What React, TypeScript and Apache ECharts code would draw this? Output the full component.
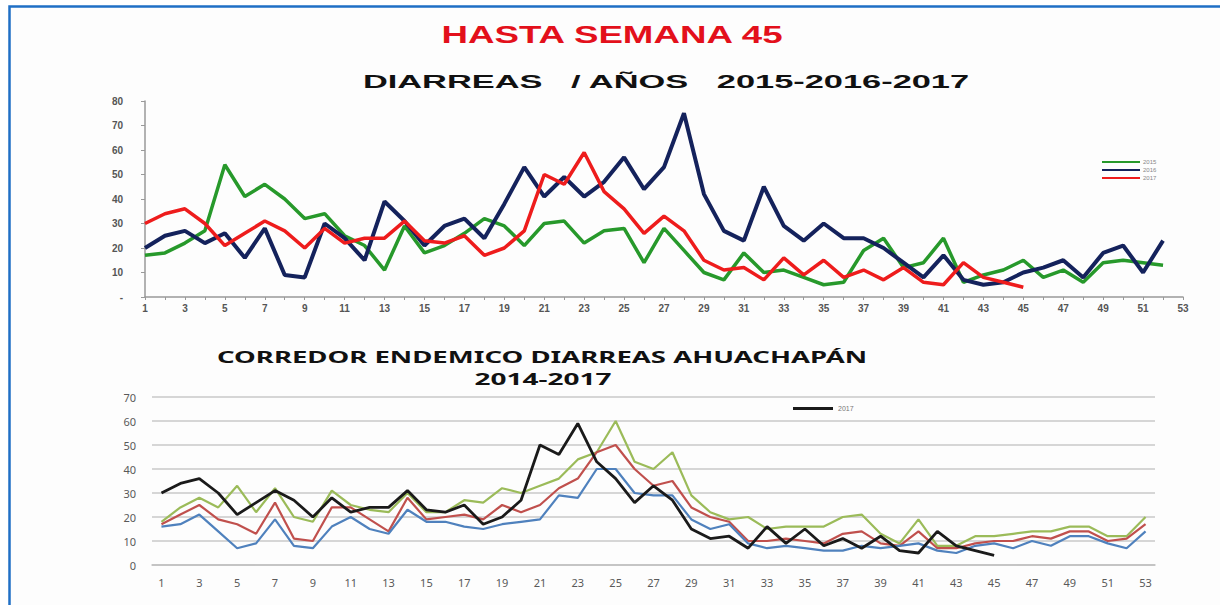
import React, { useEffect, useRef } from "react";
import * as echarts from "echarts";

const weeks: string[] = Array.from({ length: 53 }, (_, i) => String(i + 1));

const data2015: number[] = [17, 18, 22, 27, 54, 41, 46, 40, 32, 34, 25, 21, 11, 29, 18, 21, 26, 32, 29, 21, 30, 31, 22, 27, 28, 14, 28, 19, 10, 7, 18, 10, 11, 8, 5, 6, 19, 24, 12, 14, 24, 6, 9, 11, 15, 8, 11, 6, 14, 15, 14, 13];
const data2016: number[] = [20, 25, 27, 22, 26, 16, 28, 9, 8, 30, 24, 15, 39, 31, 21, 29, 32, 24, 38, 53, 41, 49, 41, 47, 57, 44, 53, 75, 42, 27, 23, 45, 29, 23, 30, 24, 24, 20, 14, 8, 17, 7, 5, 6, 10, 12, 15, 8, 18, 21, 10, 23];
const data2017: number[] = [30, 34, 36, 30, 21, 26, 31, 27, 20, 28, 22, 24, 24, 31, 23, 22, 25, 17, 20, 27, 50, 46, 59, 43, 36, 26, 33, 27, 15, 11, 12, 7, 16, 9, 15, 8, 11, 7, 12, 6, 5, 14, 8, 6, 4];

const corrHigh: number[] = [18, 24, 28, 24, 33, 22, 32, 20, 18, 31, 25, 23, 22, 30, 22, 22, 27, 26, 32, 30, 33, 36, 44, 47, 60, 43, 40, 47, 29, 22, 19, 20, 15, 16, 16, 16, 20, 21, 13, 9, 19, 8, 8, 12, 12, 13, 14, 14, 16, 16, 12, 12, 20];
const corrMid: number[] = [17, 21, 25, 19, 17, 13, 26, 11, 10, 24, 24, 19, 14, 28, 19, 20, 21, 19, 25, 22, 25, 32, 36, 47, 50, 40, 33, 35, 24, 20, 18, 10, 10, 11, 10, 9, 13, 14, 9, 8, 14, 7, 7, 9, 10, 10, 12, 11, 14, 14, 10, 11, 17];
const corrLow: number[] = [16, 17, 21, 14, 7, 9, 19, 8, 7, 16, 20, 15, 13, 23, 18, 18, 16, 15, 17, 18, 19, 29, 28, 40, 40, 30, 29, 29, 19, 15, 17, 9, 7, 8, 7, 6, 6, 8, 7, 8, 9, 6, 5, 8, 9, 7, 10, 8, 12, 12, 9, 7, 14];

const topTicks: number[] = [0, 10, 20, 30, 40, 50, 60, 70, 80];

export default function App() {
  const ref = useRef<HTMLDivElement>(null);
  useEffect(() => {
    if (!ref.current) return;
    const chart = echarts.init(ref.current, null, { renderer: "svg" });
    const arial = "'Liberation Sans', Arial, sans-serif";
    const calibri = "'Noto Sans', 'Open Sans', sans-serif";
    chart.setOption({
      animation: false,
      backgroundColor: "#ffffff",
      graphic: [
        {
          type: "rect",
          z: -10,
          shape: { x: 9.5, y: 6.5, width: 1300, height: 700 },
          style: { fill: "#fdfdfd", stroke: "#1f6fc5", lineWidth: 2.5 },
        },
        {
          type: "text",
          x: 612,
          y: 35,
          scaleX: 1.53,
          style: {
            text: "HASTA SEMANA 45",
            fill: "#e3101b",
            font: "bold 24px " + arial,
            align: "center",
            verticalAlign: "middle",
          },
        },
        {
          type: "text",
          x: 666,
          y: 82,
          scaleX: 1.81,
          style: {
            text: "DIARREAS   / AÑOS   2015-2016-2017",
            fill: "#111111",
            font: "bold 19px " + arial,
            align: "center",
            verticalAlign: "middle",
          },
        },
        {
          type: "text",
          x: 217,
          y: 357,
          scaleX: 1.72,
          style: {
            text: "CORREDOR ENDEMICO DIARREAS AHUACHAPÁN",
            fill: "#111111",
            font: "bold 16px " + calibri,
            align: "left",
            verticalAlign: "middle",
          },
        },
        {
          type: "text",
          x: 543,
          y: 379,
          scaleX: 1.75,
          style: {
            text: "2014-2017",
            fill: "#111111",
            font: "bold 16px " + calibri,
            align: "center",
            verticalAlign: "middle",
          },
        },
      ],
      legend: [
        {
          data: ["2015", "2016", "2017"],
          orient: "vertical",
          left: 1097,
          top: 154,
          icon: "rect",
          itemWidth: 38,
          itemHeight: 2,
          itemGap: 2,
          textStyle: { fontSize: 6, color: "#888", fontFamily: arial, padding: [0, 0, 0, -2] },
        },
        {
          data: ["2017 "],
          left: 788,
          top: 400,
          icon: "rect",
          itemWidth: 40,
          itemHeight: 3,
          textStyle: { fontSize: 7, color: "#777", fontFamily: arial },
          formatter: () => "2017",
        },
      ],
      grid: [
        { left: 145, right: 37, top: 101, bottom: 308, containLabel: false },
        { left: 152, right: 65, top: 397, bottom: 40, containLabel: false },
      ],
      xAxis: [
        {
          gridIndex: 0,
          type: "category",
          data: weeks,
          boundaryGap: false,
          axisLine: { lineStyle: { color: "#999", width: 1.5 } },
          axisTick: { show: true, length: 3, interval: 0, lineStyle: { color: "#999" } },
          axisLabel: { interval: 1, color: "#555", fontSize: 10, fontWeight: "bold", fontFamily: arial, margin: 6 },
        },
        {
          gridIndex: 1,
          type: "category",
          data: weeks,
          boundaryGap: true,
          axisLine: { lineStyle: { color: "#bfbfbf", width: 1.5 } },
          axisTick: { show: false },
          axisLabel: { interval: 1, color: "#595959", fontSize: 11, fontFamily: calibri, margin: 12 },
        },
      ],
      yAxis: [
        {
          gridIndex: 0,
          type: "value",
          min: topTicks[0],
          max: topTicks[topTicks.length - 1],
          interval: 10,
          axisLine: { show: true, lineStyle: { color: "#999", width: 1.5 } },
          axisTick: { show: true, length: 4, lineStyle: { color: "#999" } },
          splitLine: { show: false },
          axisLabel: {
            color: "#555",
            fontSize: 10,
            fontWeight: "bold",
            fontFamily: arial,
            margin: 22,
            formatter: (v: number) => (v === 0 ? "-" : String(v)),
          },
        },
        {
          gridIndex: 1,
          type: "value",
          min: 0,
          max: 70,
          interval: 10,
          axisLine: { show: false },
          axisTick: { show: false },
          splitLine: { show: true, lineStyle: { color: "#c8c8c8", width: 1.5 } },
          axisLabel: { color: "#595959", fontSize: 11, fontFamily: calibri, margin: 16 },
        },
      ],
      series: [
        {
          name: "2015",
          type: "line",
          xAxisIndex: 0,
          yAxisIndex: 0,
          data: data2015,
          symbol: "none",
          lineStyle: { color: "#27992b", width: 3.5 },
          itemStyle: { color: "#27992b" },
        },
        {
          name: "2016",
          type: "line",
          xAxisIndex: 0,
          yAxisIndex: 0,
          data: data2016,
          symbol: "none",
          lineStyle: { color: "#14225c", width: 4 },
          itemStyle: { color: "#14225c" },
        },
        {
          name: "2017",
          type: "line",
          xAxisIndex: 0,
          yAxisIndex: 0,
          data: data2017,
          symbol: "none",
          lineStyle: { color: "#ee1c1c", width: 3.5 },
          itemStyle: { color: "#ee1c1c" },
        },
        {
          name: "alto",
          type: "line",
          xAxisIndex: 1,
          yAxisIndex: 1,
          data: corrHigh,
          symbol: "none",
          lineStyle: { color: "#9bbb59", width: 2.2 },
          itemStyle: { color: "#9bbb59" },
        },
        {
          name: "medio",
          type: "line",
          xAxisIndex: 1,
          yAxisIndex: 1,
          data: corrMid,
          symbol: "none",
          lineStyle: { color: "#c0504d", width: 2.2 },
          itemStyle: { color: "#c0504d" },
        },
        {
          name: "bajo",
          type: "line",
          xAxisIndex: 1,
          yAxisIndex: 1,
          data: corrLow,
          symbol: "none",
          lineStyle: { color: "#4f81bd", width: 2.2 },
          itemStyle: { color: "#4f81bd" },
        },
        {
          name: "2017 ",
          type: "line",
          xAxisIndex: 1,
          yAxisIndex: 1,
          data: data2017,
          symbol: "none",
          lineStyle: { color: "#1a1a1a", width: 2.8 },
          itemStyle: { color: "#1a1a1a" },
        },
      ],
    });
    return () => chart.dispose();
  }, []);
  return (
    <div
      ref={ref}
      style={{ position: "absolute", left: 0, top: 0, width: 1220, height: 605 }}
    />
  );
}
